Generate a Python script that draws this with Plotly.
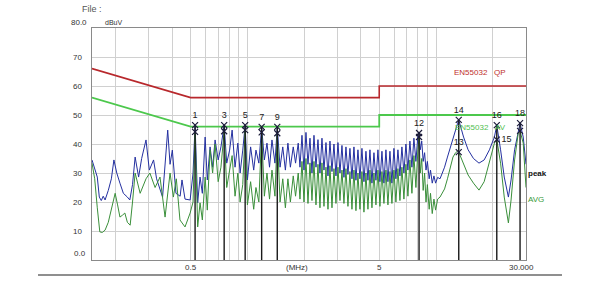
import math
import plotly.graph_objects as go

# ---------------- data ----------------
peak_freq = [
    0.150, 0.155, 0.160, 0.164, 0.168, 0.172, 0.176, 0.183, 0.190, 0.196,
    0.203, 0.211, 0.220, 0.231, 0.238, 0.246, 0.254, 0.265, 0.275, 0.290,
    0.302, 0.318, 0.330, 0.355, 0.366, 0.378, 0.389, 0.400, 0.418, 0.440,
    0.450, 0.467, 0.497, 0.515, 0.528,
    0.545, 0.561, 0.577, 0.597, 0.613, 0.634, 0.654, 0.674, 0.700, 0.724,
    0.753, 0.777, 0.805, 0.830, 0.860, 0.890, 0.915, 0.945, 0.973, 1.00,
    1.04, 1.08, 1.11, 1.15, 1.19, 1.23, 1.27, 1.31, 1.35, 1.40,
    1.44, 1.49, 1.54, 1.59, 1.64, 1.69, 1.75, 1.80, 1.86,
    1.90, 1.947, 1.995, 2.044, 2.095, 2.147, 2.200, 2.254, 2.310, 2.367,
    2.425, 2.485, 2.547, 2.610, 2.674, 2.740, 2.808, 2.877, 2.948, 3.021,
    3.096, 3.172, 3.250, 3.331, 3.413, 3.497, 3.584, 3.672, 3.763, 3.856,
    3.951, 4.049, 4.149, 4.251, 4.356, 4.464, 4.574, 4.687, 4.803, 4.922,
    5.043, 5.168, 5.295, 5.426, 5.560, 5.698, 5.838, 5.983, 6.130, 6.282,
    6.437, 6.596, 6.759, 6.926, 7.097, 7.272, 7.452, 7.636, 7.825, 8.018,
    8.13,
    8.25, 8.40, 8.55, 8.70, 8.85, 9.00, 9.20, 9.35, 9.55, 9.75,
    9.95, 10.2, 10.5, 10.8, 11.1, 11.5, 11.9, 12.3, 12.7, 13.0,
    13.2, 14.0, 14.8, 15.8, 16.9, 18.0, 19.2, 20.4, 21.0, 22.0,
    23.0, 24.2, 25.0, 26.1, 27.3, 27.9, 29.0, 30.0,
]
peak_dbuv = [
    34.5, 31.0, 28.6, 21.7, 20.5, 22.0, 20.7, 24.0, 28.0, 34.5,
    30.0, 26.5, 23.0, 21.7, 20.7, 26.0, 35.5, 28.6, 35.0, 41.4,
    31.0, 34.5, 28.0, 21.7, 32.0, 44.8, 33.0, 37.9, 23.0, 22.0,
    27.6, 21.0, 20.7, 30.0, 46.5,
    19.7, 28.6, 23.0, 42.4, 27.6, 39.0, 32.0, 41.4, 34.5, 39.0,
    46.5, 33.4, 37.9, 44.8, 32.0, 40.3, 30.0, 37.9, 46.5, 27.6,
    39.0, 31.0, 37.9, 33.4, 45.9, 34.5, 40.3, 32.0, 41.4, 33.4,
    45.9, 32.0, 39.0, 31.0, 40.3, 32.0, 39.0, 33.4, 40.3,
    32.0, 43.0, 31.0, 44.0, 33.0, 42.0, 30.0, 43.0, 32.0, 41.5,
    30.0, 42.0, 31.0, 40.5, 29.0, 41.0, 30.5, 40.0, 29.0, 40.5,
    30.0, 39.5, 28.5, 39.0, 29.5, 38.5, 28.0, 39.0, 27.5, 38.0,
    28.0, 38.5, 27.0, 37.5, 27.5, 38.0, 26.5, 37.0, 27.5, 38.0,
    27.0, 37.5, 26.5, 38.0, 27.0, 37.5, 26.5, 38.5, 28.0, 38.0,
    29.0, 39.0, 30.0, 40.0, 31.0, 41.0, 32.0, 42.0, 34.0, 43.0,
    43.8,
    38.0, 41.0, 34.0, 37.0, 31.0, 34.0, 28.0, 31.0, 26.5, 29.0,
    26.5, 28.5, 28.0, 30.0, 32.0, 35.5, 39.0, 42.0, 44.8, 47.0,
    48.3, 42.4, 38.0, 35.0, 33.4, 34.5, 38.0, 42.4, 46.5, 38.0,
    28.6, 21.7, 27.6, 38.0, 44.8, 47.2, 42.4, 33.0,
]

avg_freq = [
    0.150, 0.155, 0.160, 0.165, 0.170, 0.176, 0.183, 0.190, 0.199, 0.205,
    0.211, 0.218, 0.224, 0.231, 0.239, 0.246, 0.254, 0.270, 0.290, 0.304,
    0.324, 0.344, 0.366, 0.389, 0.405, 0.420, 0.439, 0.467, 0.497, 0.515,
    0.528,
    0.545, 0.561, 0.577, 0.597, 0.613, 0.634, 0.654, 0.674, 0.700, 0.724,
    0.753, 0.777, 0.805, 0.830, 0.860, 0.890, 0.915, 0.945, 0.973, 1.00,
    1.04, 1.08, 1.11, 1.15, 1.19, 1.23, 1.27, 1.31, 1.35, 1.40,
    1.44, 1.49, 1.54, 1.59, 1.64, 1.69, 1.75, 1.80, 1.86,
    1.90, 1.947, 1.995, 2.044, 2.095, 2.147, 2.200, 2.254, 2.310, 2.367,
    2.425, 2.485, 2.547, 2.610, 2.674, 2.740, 2.808, 2.877, 2.948, 3.021,
    3.096, 3.172, 3.250, 3.331, 3.413, 3.497, 3.584, 3.672, 3.763, 3.856,
    3.951, 4.049, 4.149, 4.251, 4.356, 4.464, 4.574, 4.687, 4.803, 4.922,
    5.043, 5.168, 5.295, 5.426, 5.560, 5.698, 5.838, 5.983, 6.130, 6.282,
    6.437, 6.596, 6.759, 6.926, 7.097, 7.272, 7.452, 7.636, 7.825, 8.018,
    8.13,
    8.25, 8.40, 8.55, 8.70, 8.85, 9.00, 9.20, 9.35, 9.55, 9.75,
    9.95, 10.2, 10.5, 10.8, 11.1, 11.5, 11.9, 12.3, 12.7, 13.0,
    13.2, 14.0, 14.8, 15.8, 16.9, 18.0, 19.2, 20.4, 21.0, 22.0,
    23.0, 24.2, 25.0, 26.1, 27.3, 27.9, 29.0, 30.0,
]
avg_dbuv = [
    33.4, 28.0, 18.0, 9.7, 9.5, 10.3, 13.0, 18.0, 23.0, 19.0,
    14.8, 15.5, 16.2, 13.0, 12.0, 20.0, 30.0, 23.0, 28.0, 30.0,
    25.0, 28.6, 14.8, 30.0, 21.7, 28.0, 13.8, 11.4, 16.2, 20.0,
    44.2,
    11.4, 19.7, 13.8, 28.6, 17.2, 38.0, 30.0, 40.0, 27.0, 32.0,
    44.4, 25.0, 31.0, 36.0, 22.0, 30.0, 20.0, 26.0, 44.8, 19.0,
    27.0, 17.5, 25.0, 20.0, 44.0, 22.0, 30.0, 21.0, 31.0, 22.0,
    43.7, 20.0, 28.0, 18.0, 28.0, 20.0, 29.0, 22.0, 30.0,
    21.0, 34.0, 20.0, 35.0, 19.5, 33.5, 20.5, 34.0, 19.0, 33.0,
    18.0, 33.5, 18.5, 32.0, 17.5, 32.5, 18.0, 31.5, 19.5, 32.0,
    20.5, 31.0, 19.5, 31.5, 18.5, 30.5, 17.5, 31.0, 17.0, 30.0,
    17.5, 30.5, 16.5, 30.0, 17.5, 31.0, 18.0, 30.0, 19.0, 31.0,
    18.5, 30.5, 19.5, 31.0, 19.0, 30.5, 19.5, 31.0, 20.0, 31.5,
    20.5, 32.0, 21.0, 33.0, 22.0, 34.5, 23.0, 36.0, 25.0, 38.0,
    42.4,
    30.0, 35.0, 24.0, 30.0, 20.0, 26.0, 17.5, 23.0, 16.0, 21.0,
    17.2, 21.0, 21.7, 23.0, 24.5, 28.0, 32.0, 35.5, 37.0, 37.5,
    37.2, 33.4, 29.3, 26.5, 24.1, 27.0, 33.4, 40.3, 41.5, 33.4,
    21.7, 12.8, 20.7, 34.5, 43.8, 44.5, 40.3, 25.0,
]

qp_limit_freq = [0.15, 0.5, 5.0, 5.0, 30.0]
qp_limit_dbuv = [66, 56, 56, 60, 60]
av_limit_freq = [0.15, 0.5, 5.0, 5.0, 30.0]
av_limit_dbuv = [56, 46, 46, 50, 50]

marker_freq = [0.528, 0.753, 0.973, 1.19, 1.44, 8.13, 13.2, 21.0, 27.9]
marker_qp = [46.5, 46.5, 46.5, 45.9, 45.9, 43.8, 48.3, 46.5, 47.2]
marker_av = [44.2, 44.4, 44.8, 44.0, 43.7, 42.4, 37.2, 41.5, 44.5]
marker_qp_labels = ["1", "3", "5", "7", "9", "12", "14", "16", "18"]
marker_av_labels = ["", "", "", "", "", "", "13", "15", ""]

x_grid = [0.2, 0.3, 0.4, 0.5, 0.6, 0.7, 0.8, 0.9, 1, 2, 3, 4, 5, 6, 7, 8, 9, 10, 20, 30]
y_grid = [10, 20, 30, 40, 50, 60, 70]
y_tick_labels = ["10", "20", "30", "40", "50", "60", "70"]
x_label_pos = [0.5, 1.83, 5.0, 28.3]
x_label_text = ["0.5", "(MHz)", "5", "30.000"]

FONT = "Arial, Liberation Sans, sans-serif"
MARK_COLOR = "#1c1c3a"

fig = go.Figure()

# limit lines
fig.add_trace(go.Scatter(x=qp_limit_freq, y=qp_limit_dbuv, mode="lines",
                         line=dict(color="#b8282c", width=1.6), hoverinfo="skip"))
fig.add_trace(go.Scatter(x=av_limit_freq, y=av_limit_dbuv, mode="lines",
                         line=dict(color="#4cc84c", width=1.8), hoverinfo="skip"))

# measurement traces
fig.add_trace(go.Scatter(x=peak_freq, y=peak_dbuv, mode="lines",
                         line=dict(color="#2430a0", width=1), hoverinfo="skip"))
fig.add_trace(go.Scatter(x=avg_freq, y=avg_dbuv, mode="lines",
                         line=dict(color="#3a8f3a", width=1), hoverinfo="skip"))

# marker vertical lines
vx, vy = [], []
for f, v in zip(marker_freq, marker_qp):
    vx += [f, f, None]
    vy += [0, v, None]
fig.add_trace(go.Scatter(x=vx, y=vy, mode="lines",
                         line=dict(color="#1a1a1a", width=1.4), hoverinfo="skip"))

# X markers
fig.add_trace(go.Scatter(x=marker_freq, y=marker_qp, mode="markers+text",
                         marker=dict(symbol="x-thin-open", size=6, color=MARK_COLOR,
                                     line=dict(color=MARK_COLOR, width=1.2)),
                         text=marker_qp_labels, textposition="top center",
                         textfont=dict(family=FONT, size=9, color="#202020"),
                         hoverinfo="skip"))
av_positions = ["top center"] * 7 + ["middle right", "top center"]
fig.add_trace(go.Scatter(x=marker_freq, y=marker_av, mode="markers+text",
                         marker=dict(symbol="x-thin-open", size=6, color=MARK_COLOR,
                                     line=dict(color=MARK_COLOR, width=1.2)),
                         text=marker_av_labels, textposition=av_positions,
                         textfont=dict(family=FONT, size=9, color="#202020"),
                         hoverinfo="skip"))

annotations = []
for v, t in zip(y_grid, y_tick_labels):
    annotations.append(dict(x=0, xref="paper", y=v, yref="y", text=t, showarrow=False,
                            xanchor="right", xshift=-8,
                            font=dict(family=FONT, size=8, color="#333333")))
annotations.append(dict(x=0, xref="paper", y=0, yref="y", text="0.0", showarrow=False,
                        xanchor="right", xshift=-4, yshift=7,
                        font=dict(family=FONT, size=8, color="#333333")))
annotations.append(dict(x=0, xref="paper", y=80, yref="y", text="80.0", showarrow=False,
                        xanchor="right", xshift=-3, yshift=6,
                        font=dict(family=FONT, size=8, color="#333333")))
annotations.append(dict(x=0.025, xref="paper", y=80, yref="y", text="dBuV", showarrow=False,
                        xanchor="left", yshift=6,
                        font=dict(family=FONT, size=7, color="#333333")))
annotations.append(dict(x=-0.028, xref="paper", y=1, yref="paper", text="File :", showarrow=False,
                        xanchor="left", yanchor="bottom", yshift=12,
                        font=dict(family=FONT, size=9, color="#555555")))
for f, t in zip(x_label_pos, x_label_text):
    annotations.append(dict(x=math.log10(f), xref="x", y=0, yref="paper", text=t,
                            showarrow=False, yanchor="top", yshift=-1,
                            font=dict(family=FONT, size=8, color="#333333")))
annotations.append(dict(x=math.log10(12.1), xref="x", y=64.6, yref="y",
                        text="EN55032&nbsp;&nbsp;&nbsp;QP", showarrow=False, xanchor="left",
                        font=dict(family=FONT, size=8, color="#c0302c")))
annotations.append(dict(x=math.log10(12.3), xref="x", y=45.7, yref="y",
                        text="EN55032&nbsp;&nbsp;&nbsp;AV", showarrow=False, xanchor="left",
                        font=dict(family=FONT, size=8, color="#50c050")))
annotations.append(dict(x=1, xref="paper", y=30, yref="y", text="<b>peak</b>",
                        showarrow=False, xanchor="left", xshift=0,
                        font=dict(family=FONT, size=8, color="#111111")))
annotations.append(dict(x=1, xref="paper", y=21, yref="y", text="AVG",
                        showarrow=False, xanchor="left", xshift=0,
                        font=dict(family=FONT, size=8, color="#3a9a3a")))

shapes = [
    dict(type="line", xref="paper", yref="paper", x0=-0.1244, x1=1.0829,
         y0=-0.0647, y1=-0.0647, line=dict(color="#6a6a6a", width=1.5)),
    dict(type="line", xref="paper", yref="paper", x0=0.7627, x1=1.1429,
         y0=1.1983, y1=1.1983, line=dict(color="#d6dcdc", width=2)),
]

fig.update_layout(
    width=600, height=297,
    margin=dict(l=92, r=74, t=28, b=37),
    paper_bgcolor="white", plot_bgcolor="white",
    showlegend=False,
    annotations=annotations, shapes=shapes,
    xaxis=dict(type="log", range=[math.log10(0.15), math.log10(30)],
               tickvals=x_grid, showticklabels=False, ticks="",
               showgrid=True, gridcolor="#d0d0d0", gridwidth=1,
               showline=True, linecolor="#8a8a8a", linewidth=1, mirror=True,
               zeroline=False, fixedrange=True),
    yaxis=dict(range=[0, 80], tickvals=y_grid, showticklabels=False, ticks="",
               showgrid=True, gridcolor="#d0d0d0", gridwidth=1,
               showline=True, linecolor="#8a8a8a", linewidth=1, mirror=True,
               zeroline=False, fixedrange=True),
)

fig.write_html("out.html")
